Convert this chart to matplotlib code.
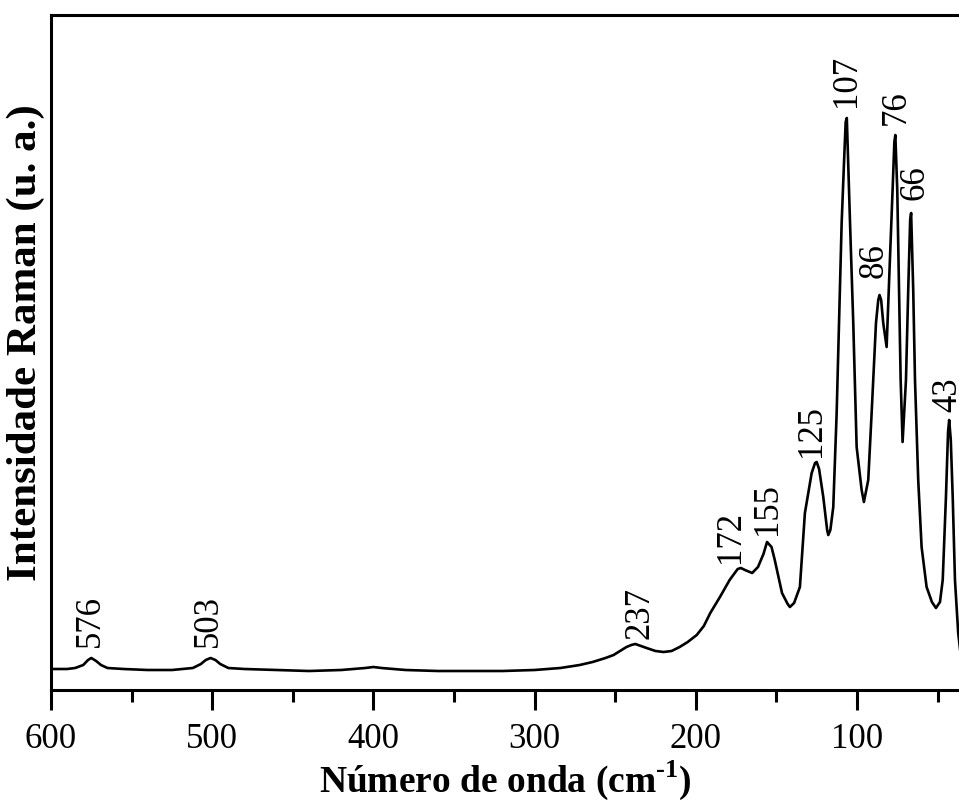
import numpy as np
import matplotlib.pyplot as plt
from matplotlib.ticker import MultipleLocator

plt.rcParams['font.family'] = ['Liberation Serif', 'DejaVu Serif']
plt.rcParams['mathtext.fontset'] = 'custom'
plt.rcParams['mathtext.rm'] = 'Liberation Serif:bold'
plt.rcParams['mathtext.bf'] = 'Liberation Serif:bold'

# spectrum (wavenumber in cm-1, intensity in a.u.)
wn = [600, 590, 585, 580, 577, 575, 572, 569, 565, 555, 540, 525, 512, 507, 504,
      501, 498, 495, 490, 480, 460, 440, 420, 405, 400, 395, 380, 360, 340, 320,
      300, 284, 272, 264, 256, 251, 247, 243, 240, 237.5, 234, 230.5, 225, 220,
      215, 210, 205, 199.4, 195, 191, 185, 179, 174, 172, 169.5, 165, 161.4,
      158, 155.8, 153, 151, 146.5, 143, 141.6, 139, 135.4, 132.3, 128.1, 126,
      125, 123.5, 120.9, 118.5, 117.8, 116.5, 114.7, 112.6, 109.5, 107.9, 107,
      106.3, 104.3, 102.3, 100.2, 97.1, 95.7, 93.0, 90.9, 88.2, 86.8, 86.0,
      85.0, 83.7, 81.6, 79.5, 77.9, 76.8, 76.2, 75.0, 73.9, 72.9, 71.7, 69.6,
      68.2, 67.0, 66.4, 65.1, 64.0, 62.0, 59.9, 56.8, 53.5, 51.0, 48.5, 46.8,
      44.8, 43.5, 42.8, 41.8, 40.6, 39.2, 37.2, 36.0]
intensity = [21, 21, 22, 25, 30, 32, 29, 25, 22, 21, 20, 20, 22, 26, 30,
             32, 30, 26, 22, 21, 20, 19, 20, 22, 23, 22, 20, 19, 19, 19,
             20, 22, 25, 28, 32, 35, 39, 43, 45, 46, 44, 42, 39, 38,
             39, 43, 48, 55, 64, 77, 93, 110, 121, 122, 120, 117, 123,
             136, 148, 143, 130, 97, 86, 83, 87, 103, 177, 217, 227,
             228, 221, 193, 160, 155, 160, 183, 277, 467, 533, 568,
             572, 467, 367, 243, 200, 188, 210, 277, 367, 390, 395,
             390, 367, 343, 433, 500, 548, 555, 500, 400, 310, 248, 310,
             400, 470, 477, 400, 310, 210, 143, 103, 88, 82, 88, 110,
             193, 258, 270, 250, 193, 110, 57, 40]

# peak labels
peak_labels = ['576', '503', '237', '172', '155', '125', '107', '86', '76', '66', '43']
label_x = [575.8, 502.6, 234.6, 178.2, 155.2, 128.5, 106.2, 89.5, 75.8, 64.0, 43.6]
label_y = [43, 43, 51, 127, 155, 233, 583, 412, 565, 490, 278]

fig = plt.figure(figsize=(9.59, 8.09), dpi=100)
ax = fig.add_axes([51 / 959, 119 / 809, 908 / 959, 675 / 809])

ax.plot(wn, intensity, color='black', lw=1.9)

for txt, x, y in zip(peak_labels, label_x, label_y):
    ax.text(x, y, txt, rotation=90, ha='center', va='bottom', fontsize=25)

ax.set_xlim(600, 36.7)
ax.set_ylim(0, 675)

ax.xaxis.set_major_locator(MultipleLocator(100))
ax.xaxis.set_minor_locator(MultipleLocator(50))
ax.tick_params(axis='x', which='major', direction='out', length=14.5, width=2.2,
               labelsize=25, pad=9, top=False)
ax.tick_params(axis='x', which='minor', direction='out', length=8.5, width=2.2, top=False)
ax.set_yticks([])

for s in ['left', 'top', 'bottom']:
    ax.spines[s].set_linewidth(2.2)
ax.spines['right'].set_visible(False)

ax.set_xlabel(r'Número de onda (cm$^{\text{-}1}$)', fontsize=27, fontweight='bold', labelpad=2)
ax.set_ylabel('Intensidade Raman (u. a.)', fontsize=31, fontweight='bold')
ax.yaxis.set_label_coords(-0.007, 0.515)

fig.savefig('out.png', dpi=100)
